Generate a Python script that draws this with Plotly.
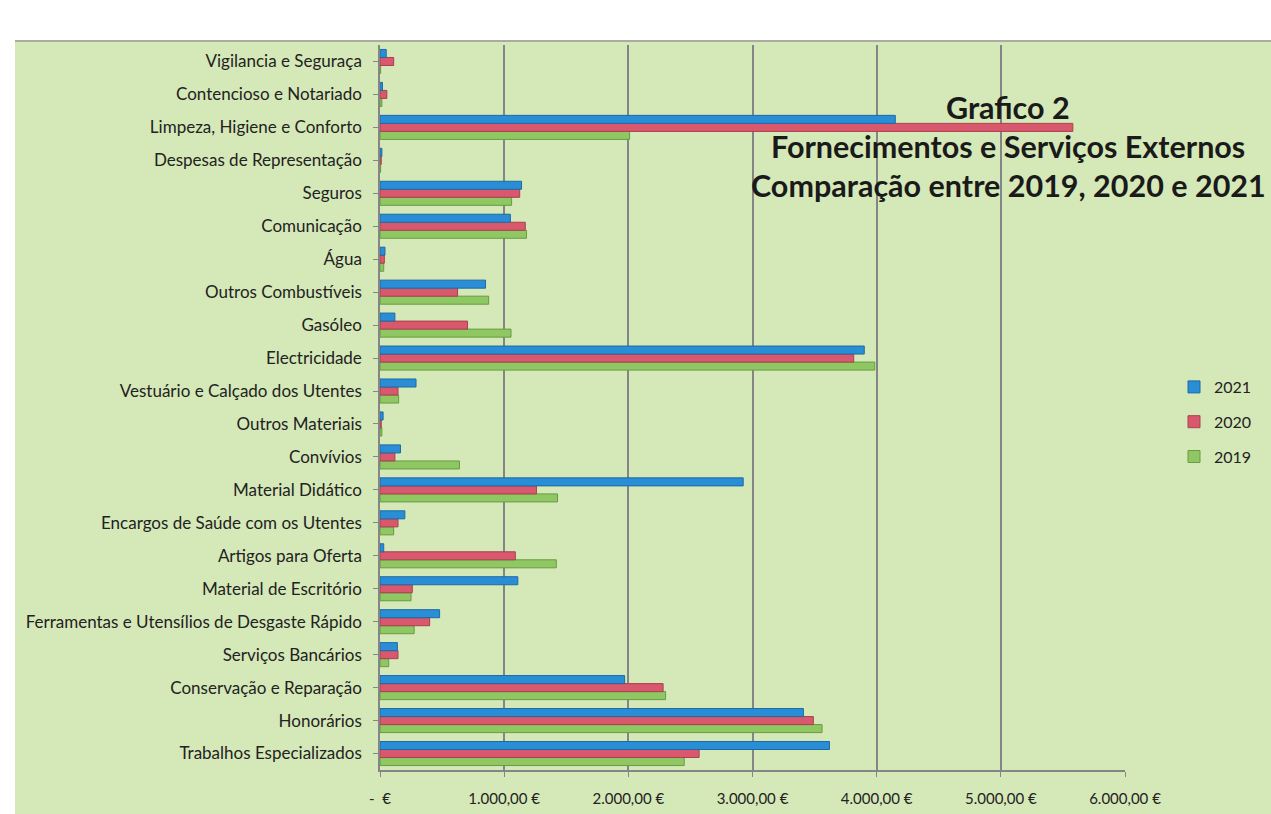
import plotly.graph_objects as go

categories = [
    "Trabalhos Especializados", "Honorários", "Conservação e Reparação",
    "Serviços Bancários", "Ferramentas e Utensílios de Desgaste Rápido",
    "Material de Escritório", "Artigos para Oferta", "Encargos de Saúde com os Utentes",
    "Material Didático", "Convívios", "Outros Materiais", "Vestuário e Calçado dos Utentes",
    "Electricidade", "Gasóleo", "Outros Combustíveis", "Água", "Comunicação", "Seguros",
    "Despesas de Representação", "Limpeza, Higiene e Conforto", "Contencioso e Notariado",
    "Vigilancia e Seguraça",
]
v2021 = [3620, 3410, 1970, 140, 480, 1110, 30, 200, 2925, 165, 25, 290,
         3900, 120, 850, 40, 1050, 1140, 15, 4150, 20, 50]
v2020 = [2570, 3490, 2280, 145, 400, 260, 1090, 145, 1260, 120, 10, 145,
         3815, 705, 625, 35, 1170, 1125, 10, 5580, 55, 110]
v2019 = [2450, 3560, 2300, 70, 275, 250, 1420, 110, 1430, 640, 15, 150,
         3985, 1055, 875, 30, 1180, 1060, 5, 2010, 15, 5]

tick_vals = [0, 1000, 2000, 3000, 4000, 5000, 6000]
tick_text = ["-  €", "1.000,00 €", "2.000,00 €", "3.000,00 €", "4.000,00 €", "5.000,00 €", "6.000,00 €"]

series = [("2019", v2019, "#8fc862", "#6a9a45", 3),
          ("2020", v2020, "#d9586d", "#a8404f", 2),
          ("2021", v2021, "#2a8ed6", "#1d6aa3", 1)]

fig = go.Figure()
for name, vals, col, edge, rank in series:
    fig.add_trace(go.Bar(
        y=categories, x=vals, name=name, orientation="h",
        marker=dict(color=col, line=dict(color=edge, width=1)),
        legendgroup=name, legendrank=rank,
    ))

W, H = 1271, 814
L, R, T, B = 380, 146, 45, 44
pw, ph = W - L - R, H - T - B

def px(x):
    return (x - L) / pw

def py(y):
    return (H - B - y) / ph

green = "#d5e8b8"
fig.update_layout(
    width=W, height=H,
    margin=dict(l=L, r=R, t=T, b=B, autoexpand=False),
    paper_bgcolor=green, plot_bgcolor=green,
    barmode="group", bargap=0.27, bargroupgap=0.0,
    font=dict(family="Lato, Open Sans, sans-serif", size=16, color="#222"),
    showlegend=True,
    legend=dict(traceorder="grouped", x=px(1174), y=py(370), xanchor="left", yanchor="top",
                font=dict(size=16, color="#222"), bgcolor="rgba(0,0,0,0)",
                tracegroupgap=11, itemwidth=30),
    xaxis=dict(range=[0, 6000], tickvals=tick_vals, ticktext=tick_text, automargin=False,
               showgrid=True, gridcolor="#858585", gridwidth=1.5,
               showline=True, linecolor="#858585", linewidth=1.5,
               ticks="outside", ticklen=5, tickcolor="#858585", ticklabelstandoff=9,
               zeroline=False, tickfont=dict(size=15, color="#222")),
    yaxis=dict(showgrid=False, showline=True, linecolor="#858585", linewidth=1.5,
               ticks="outside", ticklen=5, tickcolor="#858585", automargin=False,
               tickfont=dict(size=17, color="#222"), ticklabelstandoff=8),
    shapes=[
        dict(type="rect", xref="paper", yref="paper", x0=-1, x1=2, y0=py(40), y1=2,
             fillcolor="white", line=dict(width=0), layer="above"),
        dict(type="rect", xref="paper", yref="paper", x0=-1, x1=px(15), y0=-1, y1=2,
             fillcolor="white", line=dict(width=0), layer="above"),
        dict(type="line", xref="paper", yref="paper", x0=px(15), x1=2, y0=py(41), y1=py(41),
             line=dict(color="#9a9a9a", width=1.5), layer="above"),
    ],
)

title_lines = [("Grafico 2", 107), ("Fornecimentos e Serviços Externos", 146),
               ("Comparação entre 2019, 2020 e 2021", 185)]
for txt, yc in title_lines:
    fig.add_annotation(text="<b>%s</b>" % txt, xref="paper", yref="paper",
                       x=px(1008), y=py(yc), xanchor="center", yanchor="middle",
                       showarrow=False, font=dict(size=30.5, color="#1a1a1a"))

fig.write_html("out.html", config={"displayModeBar": False},
               post_script="document.body.style.margin='0';document.body.style.overflow='hidden';")
